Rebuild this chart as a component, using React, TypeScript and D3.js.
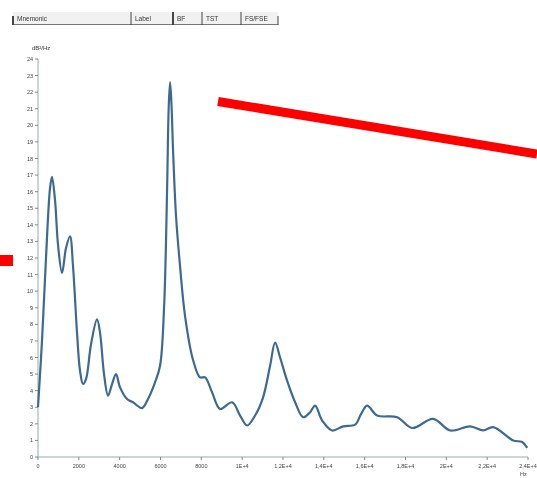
import React from "react";
import * as d3 from "d3";

// Spectrum samples: frequency (Hz) and level
const freqs = [0, 196, 392, 588, 686, 833, 980, 1176, 1372, 1568, 1715, 1911, 2058, 2205, 2352, 2597, 2890, 3038, 3234, 3430, 3626, 3822, 4018, 4361, 4655, 5096, 5390, 5733, 5978, 6174, 6321, 6400, 6468, 6540, 6615, 6762, 6958, 7203, 7595, 7938, 8183, 8526, 8918, 9506, 9898, 10241, 10633, 11025, 11368, 11613, 11858, 12201, 12593, 12985, 13328, 13573, 13916, 14406, 14945, 15533, 15827, 16121, 16611, 17591, 18326, 19355, 20188, 21168, 21805, 22295, 23275, 23716, 23961];
const levels = [3.0, 7.0, 12.0, 16.2, 16.9, 15.5, 12.8, 11.1, 12.6, 13.3, 11.5, 7.5, 5.2, 4.4, 4.7, 6.8, 8.3, 7.5, 5.0, 3.7, 4.4, 5.0, 4.2, 3.5, 3.3, 2.95, 3.5, 4.5, 5.5, 9.0, 16.0, 21.0, 22.6, 21.2, 18.5, 14.5, 11.5, 8.5, 5.85, 4.8, 4.8, 3.9, 2.9, 3.3, 2.5, 1.9, 2.5, 3.6, 5.5, 6.9, 6.0, 4.6, 3.3, 2.4, 2.7, 3.1, 2.2, 1.6, 1.85, 1.95, 2.6, 3.1, 2.5, 2.4, 1.75, 2.3, 1.6, 1.85, 1.6, 1.8, 1.0, 0.9, 0.55];

const xTickValues = [0, 2000, 4000, 6000, 8000, 10000, 12000, 14000, 16000, 18000, 20000, 22000, 24000];
const xTickLabels = ["0", "2000", "4000", "6000", "8000", "1E+4", "1,2E+4", "1,4E+4", "1,6E+4", "1,8E+4", "2E+4", "2,2E+4", "2,4E+4"];
const yTickValues = d3.range(0, 25);

const headerCells = ["Mnemonic", "Label", "BF", "TST", "FS/FSE"];
const headerEdges = [13, 131, 173, 202, 241, 278];

export default function App() {
  const W = 537;
  const H = 478;
  const x = d3.scaleLinear().domain([0, 24000]).range([38, 528]);
  const y = d3.scaleLinear().domain([0, 24]).range([457, 59]);

  const pts: [number, number][] = freqs.map((f, i) => [f, levels[i]]);
  const line = d3
    .line<[number, number]>()
    .x((d) => x(d[0]))
    .y((d) => y(d[1]))
    .curve(d3.curveCatmullRom.alpha(0.5));

  const font = "'Liberation Sans', Arial, sans-serif";
  const ink = "#444";

  return (
    <svg
      width={W}
      height={H}
      style={{ position: "absolute", left: 0, top: 0, background: "#fff" }}
      fontFamily={font}
    >
      <defs>
        <filter id="soft" x="-5%" y="-5%" width="110%" height="110%">
          <feGaussianBlur stdDeviation="0.55" />
        </filter>
      </defs>
      <rect width={W} height={H} fill="#fff" />
      <g filter="url(#soft)">
        {/* toolbar strip */}
        <rect x={headerEdges[0]} y={12} width={headerEdges[5] - headerEdges[0]} height={12} fill="#f1f1f1" />
        <line x1={headerEdges[0]} x2={headerEdges[5]} y1={24.5} y2={24.5} stroke="#777" strokeWidth={1} />
        {headerEdges.map((e, i) => (
          <line key={i} x1={e} x2={e} y1={i === 0 || i === 5 ? 16 : 12} y2={25} stroke="#444" strokeWidth={i === 0 || i === 2 ? 2 : 1} />
        ))}
        {headerCells.map((t, i) => (
          <text key={t} x={headerEdges[i] + 4} y={21} fontSize={6.5} fill="#333">
            {t}
          </text>
        ))}

        {/* y axis */}
        <text x={32} y={50} fontSize={6} fill="#333">dB²/Hz</text>
        <line x1={38} x2={38} y1={y(24)} y2={y(0)} stroke="#9aa" strokeWidth={1} />
        {yTickValues.map((v) => (
          <g key={v}>
            <line x1={35} x2={38} y1={y(v)} y2={y(v)} stroke="#888" />
            <text x={33} y={y(v) + 2} fontSize={5.5} fill={ink} textAnchor="end">
              {v}
            </text>
          </g>
        ))}

        {/* x axis */}
        <line x1={38} x2={528} y1={y(0)} y2={y(0)} stroke="#9aa" strokeWidth={1} />
        {xTickValues.map((v, i) => (
          <g key={v}>
            <line x1={x(v)} x2={x(v)} y1={y(0)} y2={y(0) + 3} stroke="#888" />
            <text x={x(v)} y={y(0) + 11} fontSize={5.5} fill={ink} textAnchor="middle">
              {xTickLabels[i]}
            </text>
          </g>
        ))}
        <text x={520} y={476} fontSize={5.5} fill={ink}>Hz</text>

        {/* spectrum */}
        <path d={line(pts) ?? ""} fill="none" stroke="#3d6a92" strokeWidth={2.2} strokeLinejoin="round" />
      </g>

      {/* red highlight marks */}
      <line x1={218} y1={101.5} x2={537} y2={154} stroke="#ff0000" strokeWidth={9} />
      <rect x={0} y={255} width={13} height={11} fill="#ff0000" />
    </svg>
  );
}
